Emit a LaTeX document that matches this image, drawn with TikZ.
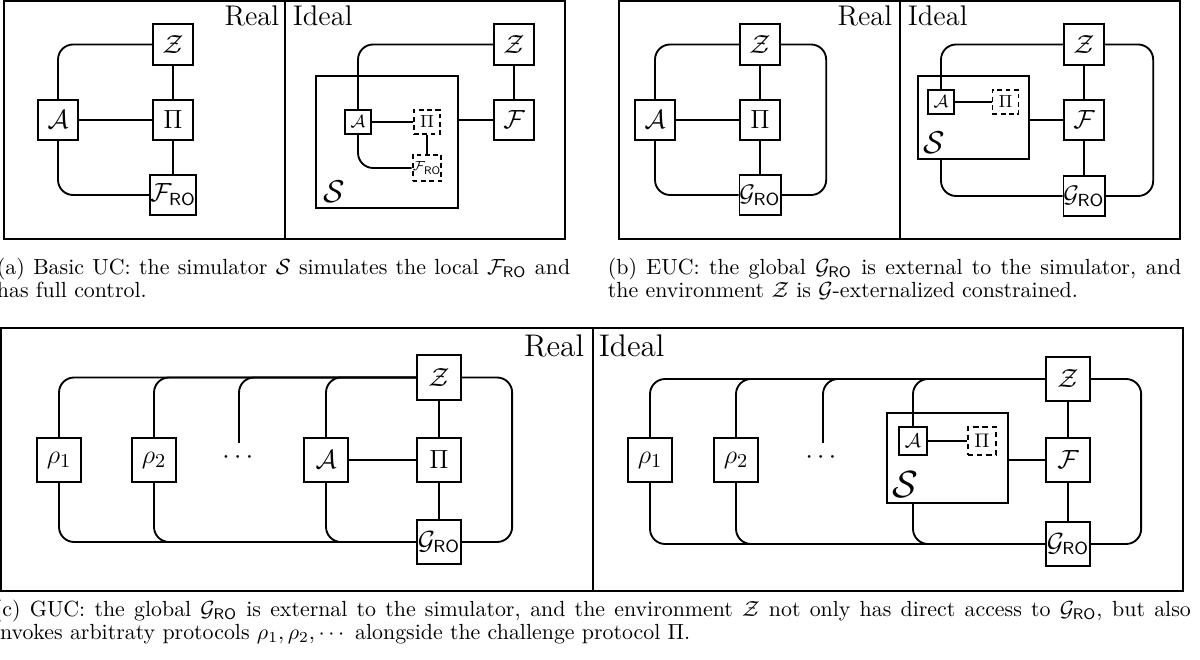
\documentclass[tikz,border=0pt]{standalone}
\usepackage{tikz}
\usepackage{amsmath}

\begin{document}
\begin{tikzpicture}[x=0.457pt,y=-0.457pt,line width=0.85pt,
    blk/.style={draw,inner sep=0pt,minimum size=18.5pt,font=\fontsize{11.5}{14}\selectfont},
    sblk/.style={draw,inner sep=0pt,minimum width=11.9pt,minimum height=11pt,font=\fontsize{8.5}{10}\selectfont},
    dblk/.style={sblk,dash pattern=on 2.2pt off 1.6pt},
    bblk/.style={draw,inner sep=0pt,minimum size=20.3pt,font=\fontsize{12.6}{15}\selectfont},
    bsblk/.style={draw,inner sep=0pt,minimum size=12.8pt,font=\fontsize{9.5}{11}\selectfont},
    dbsblk/.style={bsblk,dash pattern=on 2.4pt off 1.8pt},
    simbox/.style={draw,inner sep=0pt},
    wire/.style={rounded corners=6.9pt},
    world/.style={inner sep=0pt,font=\fontsize{13}{15}\selectfont},
    bworld/.style={inner sep=0pt,font=\fontsize{14.3}{16}\selectfont},
    simlbl/.style={anchor=south west,inner sep=0pt,font=\fontsize{15}{17}\selectfont},
    capt/.style={anchor=north west,inner sep=0pt,align=justify,font=\fontsize{10}{10.6}\selectfont}]
    \useasboundingbox (0,0) rectangle (1200,660);
    \draw (4,1) rectangle (565,239);
    \draw (285,1) -- (285,239);
    \draw (619,1) rectangle (1180,239);
    \draw (900,1) -- (900,239);
    \draw (1,328) rectangle (1183,591);
    \draw (593,328) -- (593,591);

    \node[world,anchor=base east] (ra) at (280,26) {Real};
    \node[world,anchor=base west] (ia) at (292,26) {Ideal};
    \node[blk] (Za) at (173,44.5) {$\mathcal{Z}$};
    \node[blk] (Pia) at (173,120) {$\Pi$};
    \node[blk] (Fa) at (173,195) {$\mathcal{F}_{\mathsf{RO}}$};
    \node[blk] (Aa) at (58,120) {$\mathcal{A}$};
    \draw[wire] (Aa.north) |- (Za.west);
    \draw[wire] (Aa.south) |- (Fa.west);
    \draw (Aa) -- (Pia) (Za) -- (Pia) -- (Fa);

    \node[blk] (Zai) at (514,44.5) {$\mathcal{Z}$};
    \node[blk] (Fai) at (514,120) {$\mathcal{F}$};
    \node[simbox,minimum width=64.9pt,minimum height=60.3pt] (Sai) at (387,142) {};
    \node[simlbl,xshift=3.2pt,yshift=2.3pt] (Sail) at (Sai.south west) {$\mathcal{S}$};
    \node[sblk] (Aai) at (358,122) {$\mathcal{A}$};
    \node[dblk] (Piai) at (427,122) {$\Pi$};
    \node[dblk,minimum height=11.9pt,font=\fontsize{6}{7}\selectfont] (FROai) at (427,168) {$\mathcal{F}_{\mathsf{RO}}$};
    \draw[wire] (Aai.north) |- (Zai.west);
    \draw[wire] (Aai.south) |- (FROai.west);
    \draw (Aai) -- (Piai) -- (FROai);
    \draw (Sai.east |- Fai.west) -- (Fai.west);
    \draw (Zai) -- (Fai);

    \node[world,anchor=base east] (rb) at (893,26) {Real};
    \node[world,anchor=base west] (ib) at (907,26) {Ideal};
    \node[blk] (Zb) at (760,44.5) {$\mathcal{Z}$};
    \node[blk] (Pib) at (760,120) {$\Pi$};
    \node[blk,font=\fontsize{11}{13}\selectfont] (Gb) at (760,195) {$\mathcal{G}_{\mathsf{RO}}$};
    \node[blk] (Ab) at (655,120) {$\mathcal{A}$};
    \draw[wire] (Ab.north) |- (Zb.west);
    \draw[wire] (Ab.south) |- (Gb.west);
    \draw[wire] (Zb.east) -- ++(45,0) |- (Gb.east);
    \draw (Ab) -- (Pib) (Zb) -- (Pib) -- (Gb);

    \node[blk] (Zbi) at (1084,44.5) {$\mathcal{Z}$};
    \node[blk] (Fbi) at (1084,120) {$\mathcal{F}$};
    \node[blk,font=\fontsize{11}{13}\selectfont] (Gbi) at (1084,196) {$\mathcal{G}_{\mathsf{RO}}$};
    \node[simbox,minimum width=50.7pt,minimum height=37.9pt] (Sbi) at (973.5,117.5) {};
    \node[simlbl,xshift=2.3pt,yshift=2.7pt] (Sbil) at (Sbi.south west) {$\mathcal{S}$};
    \node[sblk] (Abi) at (941,102) {$\mathcal{A}$};
    \node[dblk] (Pibi) at (1005.5,102) {$\Pi$};
    \draw[wire] (Abi.north) |- (Zbi.west);
    \draw[wire] (Abi |- Sbi.south) |- (Gbi.west);
    \draw[wire] (Zbi.east) -- ++(48,0) |- (Gbi.east);
    \draw (Abi) -- (Pibi);
    \draw (Sbi.east |- Fbi.west) -- (Fbi.west);
    \draw (Zbi) -- (Fbi) -- (Gbi);

    \node[bworld,anchor=base east] (rc) at (585,357) {Real};
    \node[bworld,anchor=base west] (ic) at (598,357) {Ideal};
    \node[bblk] (R1c) at (59,460) {$\rho_1$};
    \node[bblk] (R2c) at (154,460) {$\rho_2$};
    \node[inner sep=0pt,font=\fontsize{13.2}{15}\selectfont] (Dc) at (240,458) {$\cdots$};
    \coordinate (Dct) at (239,443);
    \node[bblk] (Ac) at (326,460) {$\mathcal{A}$};
    \node[bblk] (Zc) at (439,377.5) {$\mathcal{Z}$};
    \node[bblk] (Pic) at (439,460) {$\Pi$};
    \node[bblk,font=\fontsize{12}{14}\selectfont] (Gc) at (439,542) {$\mathcal{G}_{\mathsf{RO}}$};
    \draw[wire] (R1c.north) |- (Zc.west);
    \draw[wire] (R2c.north) |- (Zc.west);
    \draw[wire] (Dct) |- (Zc.west);
    \draw[wire] (Ac.north) |- (Zc.west);
    \draw[wire] (R1c.south) |- (Gc.west);
    \draw[wire] (R2c.south) |- (Gc.west);
    \draw[wire] (Ac.south) |- (Gc.west);
    \draw[wire] (Zc.east) -- ++(50,0) |- (Gc.east);
    \draw (Ac) -- (Pic) (Zc) -- (Pic) -- (Gc);

    \node[bblk] (R1ci) at (650,460) {$\rho_1$};
    \node[bblk] (R2ci) at (736,460) {$\rho_2$};
    \node[inner sep=0pt,font=\fontsize{13.2}{15}\selectfont] (Dci) at (823,458) {$\cdots$};
    \coordinate (Dcit) at (823,443);
    \node[simbox,minimum width=55.3pt,minimum height=41.1pt] (Sci) at (947.5,458) {};
    \node[simlbl,xshift=2.7pt,yshift=2.7pt,font=\fontsize{16.5}{18}\selectfont] (Scil) at (Sci.south west) {$\mathcal{S}$};
    \node[bsblk] (Aci) at (913,441) {$\mathcal{A}$};
    \node[dbsblk] (Pici) at (982,441) {$\Pi$};
    \node[bblk] (Zci) at (1068,379) {$\mathcal{Z}$};
    \node[bblk] (Fci) at (1068,460) {$\mathcal{F}$};
    \node[bblk,font=\fontsize{12}{14}\selectfont] (Gci) at (1068,544) {$\mathcal{G}_{\mathsf{RO}}$};
    \draw[wire] (R1ci.north) |- (Zci.west);
    \draw[wire] (R2ci.north) |- (Zci.west);
    \draw[wire] (Dcit) |- (Zci.west);
    \draw[wire] (Aci.north) |- (Zci.west);
    \draw[wire] (R1ci.south) |- (Gci.west);
    \draw[wire] (R2ci.south) |- (Gci.west);
    \draw[wire] (Aci |- Sci.south) |- (Gci.west);
    \draw[wire] (Zci.east) -- ++(50,0) |- (Gci.east);
    \draw (Aci) -- (Pici);
    \draw (Sci.east |- Fci.west) -- (Fci.west);
    \draw (Zci) -- (Fci) -- (Gci);

    \node[capt,text width=262pt] (capa) at (-4,257) {(a) Basic UC: the simulator $\mathcal{S}$ simulates the local $\mathcal{F}_{\mathsf{RO}}$ and\linebreak has full control.};
    \node[capt,text width=262pt] (capb) at (607,257) {(b) EUC: the global $\mathcal{G}_{\mathsf{RO}}$ is external to the simulator, and\linebreak the environment $\mathcal{Z}$ is $\mathcal{G}$-externalized constrained.};
    \node[capt,text width=547pt] (capc) at (-7,599) {(c) GUC: the global $\mathcal{G}_{\mathsf{RO}}$ is external to the simulator, and the environment $\mathcal{Z}$ not only has direct access to $\mathcal{G}_{\mathsf{RO}}$, but also\linebreak invokes arbitraty protocols $\rho_1, \rho_2, \cdots$ alongside the challenge protocol $\Pi$.};
\end{tikzpicture}
\end{document}
